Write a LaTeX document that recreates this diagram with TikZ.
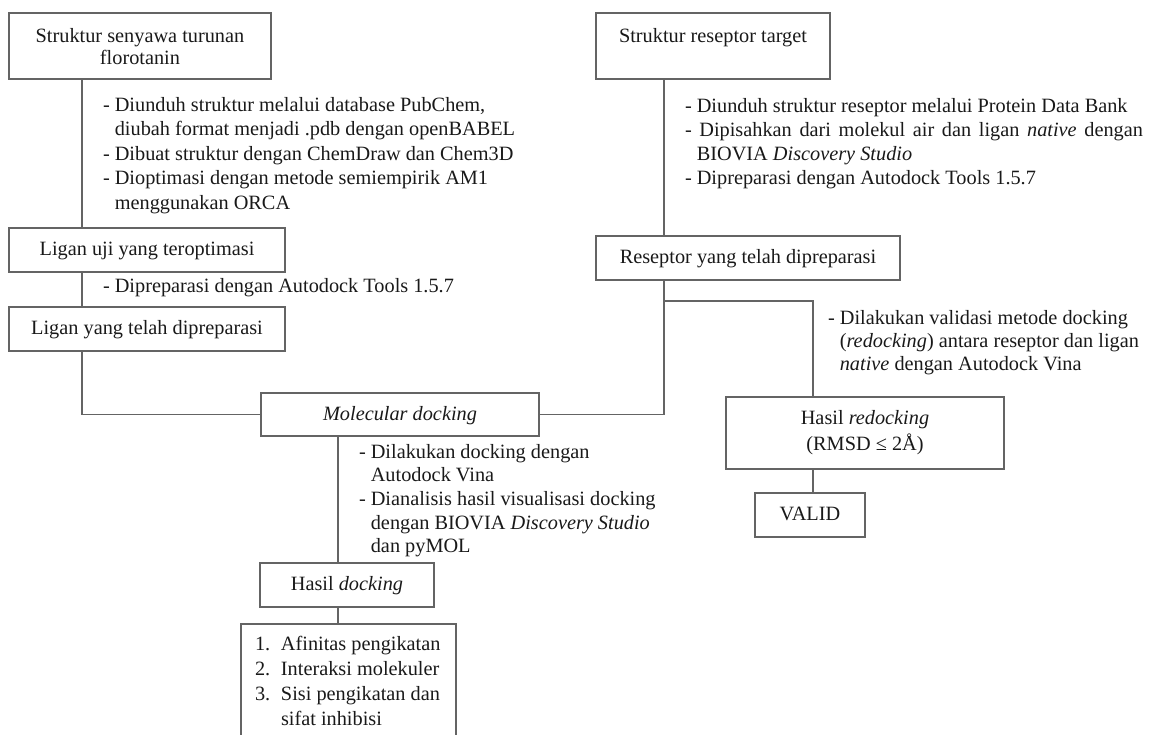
\documentclass[tikz,border=0pt]{standalone}
\usepackage{fontspec}
\setmainfont{Liberation Serif}
\definecolor{lncol}{RGB}{100,100,100}
\definecolor{txcol}{RGB}{25,25,25}
\newcommand\CL[2]{\hbox to #1{\hfil#2\hfil}}
\newcommand\LL[1]{\hbox{#1}}
\newcommand\HI{\phantom{- }}
\begin{document}
\begin{tikzpicture}[x=1pt,y=-1pt,
  every node/.style={inner sep=0pt, outer sep=0pt, text=txcol,
    font=\fontsize{20.3}{24}\selectfont, anchor=base west},
  bx/.style={draw=lncol, line width=1.8pt},
  conn/.style={draw=lncol, line width=1.8pt}]
\useasboundingbox (0,0) rectangle (1149,734);
\clip (0,0) rectangle (1149,734);
% boxes
\node[bx, text height=29pt, text depth=37pt] (b1) at (9,42)
  {\vtop{\baselineskip=22pt\CL{262pt}{Struktur senyawa turunan}\CL{262pt}{florotanin}}};
\node[bx, text height=27pt, text depth=17pt] (b2) at (9,255) {\CL{276pt}{Ligan uji yang teroptimasi}};
\node[bx, text height=27pt, text depth=17pt] (b3) at (9,334) {\CL{276pt}{Ligan yang telah dipreparasi}};
\node[bx, text height=27pt, text depth=16pt] (md) at (261,420) {\CL{278pt}{\itshape Molecular docking}};
\node[bx, text height=29pt, text depth=37pt] (b4) at (596,42) {\CL{234pt}{Struktur reseptor target}};
\node[bx, text height=27pt, text depth=17pt] (b5) at (596,263) {\CL{304pt}{Reseptor yang telah dipreparasi}};
\node[bx, text height=27pt, text depth=45pt] (b6) at (726,424)
  {\vtop{\baselineskip=26pt\CL{278pt}{Hasil \textit{redocking}}\CL{278pt}{(RMSD ≤ 2Å)}}};
\node[bx, text height=27pt, text depth=17pt] (valid) at (755,520) {\CL{110pt}{VALID}};
\node[bx, text height=27pt, text depth=17pt] (hd) at (260,590) {\CL{174pt}{Hasil \textit{docking}}};
\node[bx, inner xsep=14pt, text height=26pt, text depth=130pt] (lst) at (241,650)
  {\vtop{\baselineskip=25pt
    \hbox to 187pt{\hbox to 26pt{1.\hfil}Afinitas pengikatan\hfil}
    \hbox to 187pt{\hbox to 26pt{2.\hfil}Interaksi molekuler\hfil}
    \hbox to 187pt{\hbox to 26pt{3.\hfil}Sisi pengikatan dan\hfil}
    \hbox to 187pt{\hskip 26pt sifat inhibisi\hfil}}};
% text blocks
\node (t1) at (103,111) {\vtop{\baselineskip=24.5pt
  \LL{- Diunduh struktur melalui database PubChem,}
  \LL{\HI diubah format menjadi .pdb dengan openBABEL}
  \LL{- Dibuat struktur dengan ChemDraw dan Chem3D}
  \LL{- Dioptimasi dengan metode semiempirik AM1}
  \LL{\HI menggunakan ORCA}}};
\node (t2) at (103,292) {- Dipreparasi dengan Autodock Tools 1.5.7};
\node (t3) at (685,112) {\vtop{\baselineskip=24pt
  \LL{- Diunduh struktur reseptor melalui Protein Data Bank}
  \hbox to 458pt{- Dipisahkan dari molekul air dan ligan \textit{native} dengan}
  \LL{\HI BIOVIA \textit{Discovery Studio}}
  \LL{- Dipreparasi dengan Autodock Tools 1.5.7}}};
\node (t4) at (828,324) {\vtop{\baselineskip=23pt
  \LL{- Dilakukan validasi metode docking}
  \LL{\HI(\textit{redocking}) antara reseptor dan ligan}
  \LL{\HI\textit{native} dengan Autodock Vina}}};
\node (t5) at (359,458) {\vtop{\baselineskip=23.7pt
  \LL{- Dilakukan docking dengan}
  \LL{\HI Autodock Vina}
  \LL{- Dianalisis hasil visualisasi docking}
  \LL{\HI dengan BIOVIA \textit{Discovery Studio}}
  \LL{\HI dan pyMOL}}};
% connectors
\coordinate (xl) at (82,0);
\coordinate (xr) at (664,0);
\coordinate (xd) at (338,0);
\coordinate (xv) at (813,0);
\coordinate (yb) at (0,301);
\draw[conn] (b1.south -| xl) -- (b2.north -| xl);
\draw[conn] (b2.south -| xl) -- (b3.north -| xl);
\draw[conn] (b3.south -| xl) |- (md.west);
\draw[conn] (b4.south -| xr) -- (b5.north -| xr);
\draw[conn] (b5.south -| xr) |- (md.east);
\draw[conn] (yb -| xr) -| (b6.north -| xv);
\draw[conn] (b6.south -| xv) -- (valid.north -| xv);
\draw[conn] (md.south -| xd) -- (hd.north -| xd);
\draw[conn] (hd.south -| xd) -- (lst.north -| xd);
\end{tikzpicture}
\end{document}
